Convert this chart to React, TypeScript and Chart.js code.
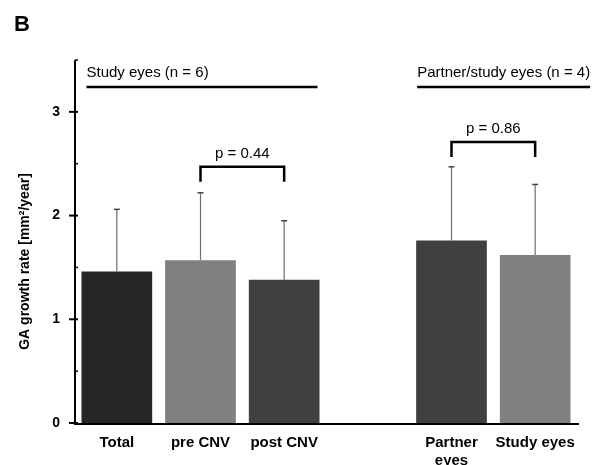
import React, { useEffect, useRef } from 'react';
import { Chart, registerables } from 'chart.js';

Chart.register(...registerables);

const categories: (string | string[])[] = ['Total', 'pre CNV', 'post CNV', '', ['Partner', 'eyes'], 'Study eyes'];
const meanRates: (number | null)[] = [1.46, 1.57, 1.38, null, 1.76, 1.62];
const sdRates: (number | null)[] = [0.60, 0.65, 0.57, null, 0.71, 0.68];
const barColors = ['#262626', '#808080', '#404040', 'rgba(0,0,0,0)', '#404040', '#808080'];
const yTickValues = [0, 1, 2, 3];
const comparisons = [
  { from: 1, to: 2, label: 'p = 0.44', level: 2.47 },
  { from: 4, to: 5, label: 'p = 0.86', level: 2.71 },
];
const groups = [
  { from: 0, to: 2, label: 'Study eyes (n = 6)' },
  { from: 4, to: 5, label: 'Partner/study eyes (n = 4)' },
];
const yAxisTitle = 'GA growth rate [mm²/year]';
const panelLabel = 'B';

const FONT = 'Arial, "Liberation Sans", sans-serif';

const overlayPlugin = {
  id: 'overlay',
  afterDatasetsDraw(chart: any) {
    const { ctx, chartArea } = chart;
    const x = chart.scales.x;
    const y = chart.scales.y;
    const meta = chart.getDatasetMeta(0);
    ctx.save();
    // error bars
    meta.data.forEach((bar: any, i: number) => {
      const m = meanRates[i];
      const s = sdRates[i];
      if (m == null || s == null) return;
      const top = y.getPixelForValue(m + s);
      ctx.strokeStyle = '#6e6e6e';
      ctx.lineWidth = 1.2;
      ctx.beginPath();
      ctx.moveTo(bar.x, bar.y);
      ctx.lineTo(bar.x, top);
      ctx.stroke();
      ctx.strokeStyle = '#444';
      ctx.lineWidth = 1.5;
      ctx.beginPath();
      ctx.moveTo(bar.x - 3, top);
      ctx.lineTo(bar.x + 3, top);
      ctx.stroke();
    });
    // axes
    ctx.strokeStyle = '#000';
    ctx.lineWidth = 2;
    ctx.beginPath();
    ctx.moveTo(chartArea.left, chartArea.top);
    ctx.lineTo(chartArea.left, chartArea.bottom + 1);
    ctx.lineTo(chartArea.right + 2, chartArea.bottom + 1);
    ctx.stroke();
    // ticks
    yTickValues.forEach((v) => {
      const py = y.getPixelForValue(v);
      ctx.beginPath();
      ctx.moveTo(chartArea.left - 6, py);
      ctx.lineTo(chartArea.left + 3, py);
      ctx.stroke();
    });
    ctx.lineWidth = 1.5;
    for (let v = 0.5; v <= 3.5; v += 1) {
      const py = y.getPixelForValue(v);
      ctx.beginPath();
      ctx.moveTo(chartArea.left, py);
      ctx.lineTo(chartArea.left + 3, py);
      ctx.stroke();
    }
    // comparison brackets
    comparisons.forEach((c) => {
      const x1 = x.getPixelForValue(c.from);
      const x2 = x.getPixelForValue(c.to);
      const yl = y.getPixelForValue(c.level);
      ctx.strokeStyle = '#000';
      ctx.lineWidth = 2.5;
      ctx.beginPath();
      ctx.moveTo(x1, yl + 15);
      ctx.lineTo(x1, yl);
      ctx.lineTo(x2, yl);
      ctx.lineTo(x2, yl + 15);
      ctx.stroke();
      ctx.fillStyle = '#000';
      ctx.font = `15px ${FONT}`;
      ctx.textAlign = 'center';
      ctx.textBaseline = 'middle';
      ctx.fillText(c.label, (x1 + x2) / 2, yl - 13);
    });
    // group labels
    const barHalf = (meta.data[0] as any).width / 2;
    groups.forEach((g, gi) => {
      const inset = gi === 0 ? 5 : 1;
      const start = x.getPixelForValue(g.from) - barHalf + inset;
      ctx.font = `15px ${FONT}`;
      const tw = ctx.measureText(g.label).width;
      const end = Math.max(x.getPixelForValue(g.to) + barHalf - 2, start + tw);
      const yl = y.getPixelForValue(3.24);
      ctx.fillStyle = '#000';
      ctx.textAlign = 'left';
      ctx.textBaseline = 'middle';
      ctx.fillText(g.label, start, yl - 14);
      ctx.lineWidth = 2.5;
      ctx.beginPath();
      ctx.moveTo(start, yl);
      ctx.lineTo(end, yl);
      ctx.stroke();
    });
    // y title
    ctx.save();
    ctx.translate(25, (chartArea.top + chartArea.bottom) / 2 + 20);
    ctx.rotate(-Math.PI / 2);
    ctx.font = `bold 14px ${FONT}`;
    ctx.textAlign = 'center';
    ctx.textBaseline = 'middle';
    ctx.fillText(yAxisTitle, 0, 0);
    ctx.restore();
    // panel label
    ctx.font = `bold 22px ${FONT}`;
    ctx.textAlign = 'left';
    ctx.textBaseline = 'middle';
    ctx.fillText(panelLabel, 14, 25);
    ctx.restore();
  },
};

export default function App() {
  const ref = useRef<HTMLCanvasElement | null>(null);
  useEffect(() => {
    if (!ref.current) return;
    const chart = new Chart(ref.current, {
      type: 'bar',
      data: {
        labels: categories as any,
        datasets: [
          {
            data: meanRates as any,
            backgroundColor: barColors,
            borderWidth: 0,
            barPercentage: 0.845,
            categoryPercentage: 1,
          },
        ],
      },
      options: {
        animation: false,
        responsive: false,
        layout: { padding: { top: 60, right: 23, left: 0, bottom: 0 } },
        plugins: { legend: { display: false }, tooltip: { enabled: false } },
        scales: {
          x: {
            grid: { display: false, drawTicks: false },
            border: { display: false },
            ticks: {
              color: '#000',
              font: { family: FONT, size: 15, weight: 'bold', lineHeight: 1.2 },
              padding: 11,
              maxRotation: 0,
              autoSkip: false,
            },
            afterFit: (s: any) => {
              s.height = 42;
            },
          },
          y: {
            min: 0,
            max: 3.5,
            grid: { display: false, drawTicks: false },
            border: { display: false },
            ticks: {
              stepSize: 0.5,
              color: '#000',
              font: { family: FONT, size: 14, weight: 'bold' },
              padding: 15,
              callback: (v: any) => (yTickValues.includes(Number(v)) ? String(v) : ''),
            },
            afterFit: (s: any) => {
              s.width = 75;
            },
          },
        },
      },
      plugins: [overlayPlugin],
    });
    return () => chart.destroy();
  }, []);
  return (
    <div style={{ position: 'absolute', left: 0, top: 0, width: 600, height: 465, background: '#fff' }}>
      <canvas ref={ref} width={600} height={465} style={{ display: 'block' }} />
    </div>
  );
}
